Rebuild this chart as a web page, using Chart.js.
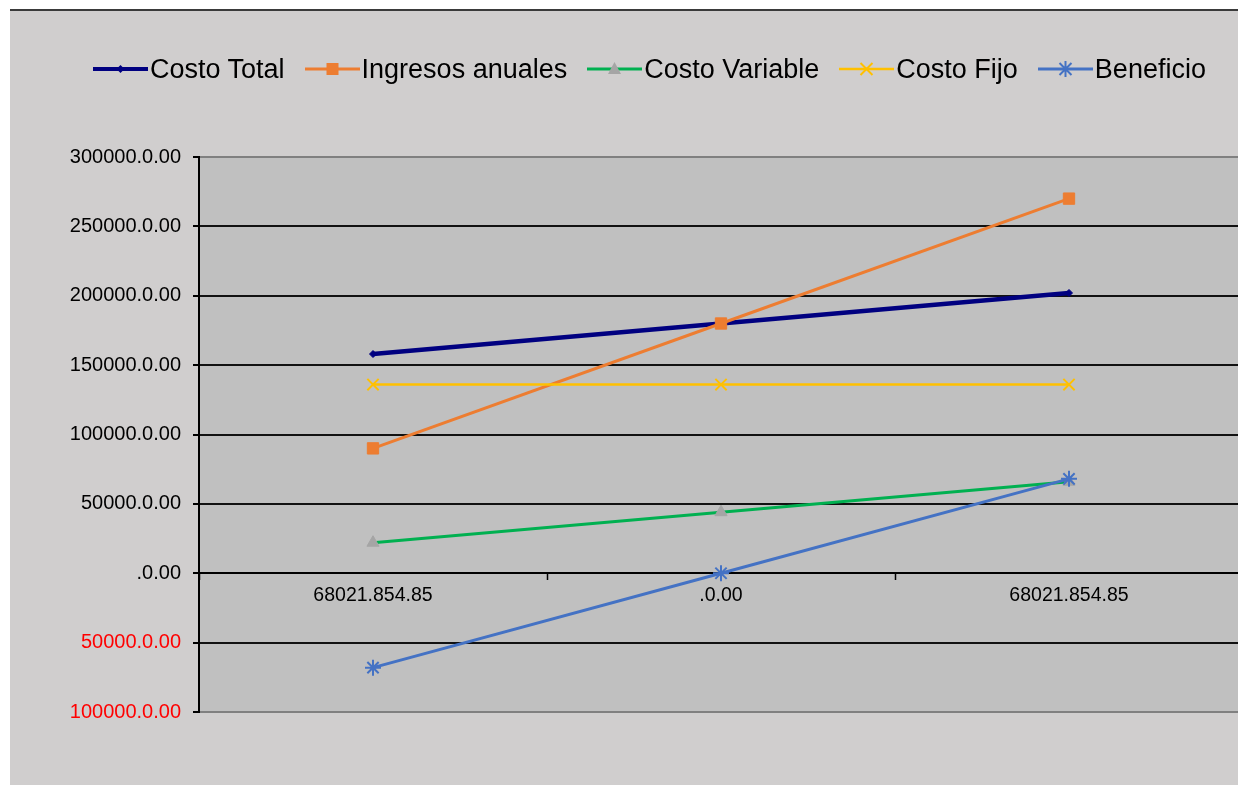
<!DOCTYPE html>
<html>
<head>
<meta charset="utf-8">
<script src="https://cdn.jsdelivr.net/npm/chart.js@4.4.1/dist/chart.umd.min.js"></script>
<style>
  html, body { margin:0; padding:0; background:#ffffff; width:1238px; height:785px; overflow:hidden; }
  #frame { position:absolute; left:10px; top:9px; width:1240px; height:776px; background:#d0cece; border-top:2px solid #3a3a3a; }
  #c { position:absolute; left:0; top:0; width:1243px; height:774px; }
  #legend { position:absolute; left:83px; top:33px; height:50px; display:flex; align-items:center; font-family:'Liberation Sans', Arial, sans-serif; font-size:27px; color:#000; white-space:nowrap; }
  .item { display:flex; align-items:center; margin-right:20px; }
  .item svg { margin-right:2px; }
</style>
</head>
<body>
<div id="frame">
  <canvas id="c" width="1243" height="774"></canvas>
  <div id="legend"></div>
</div>
<script>
const categories = ['68021.854.85', '.0.00', '68021.854.85'];
const seriesNames = ['Costo Total', 'Ingresos anuales', 'Costo Variable', 'Costo Fijo', 'Beneficio'];
const costoTotal = [158000, 180000, 202000];
const ingresosAnuales = [90000, 180000, 270000];
const costoVariable = [22000, 44000, 66000];
const costoFijo = [136000, 136000, 136000];
const beneficio = [-68022, 0, 68022];
const yTickLabels = ['100000.0.00', '50000.0.00', '.0.00', '50000.0.00', '100000.0.00', '150000.0.00', '200000.0.00', '250000.0.00', '300000.0.00'];

const FONT = "'Liberation Sans', Arial, sans-serif";

const styles = [
  { line:'#000080', width:4.5, point:'rectRot', radius:3.5, fill:'#000080' },
  { line:'#ED7D31', width:3, point:'rect', radius:8, fill:'#ED7D31' },
  { line:'#00B050', width:3, point:'triangle', radius:7, fill:'#A5A5A5' },
  { line:'#FFC000', width:2.5, point:'crossRot', radius:8, fill:'#FFC000' },
  { line:'#4472C4', width:3, point:'star', radius:8, fill:'#4472C4' }
];
const values = [costoTotal, ingresosAnuales, costoVariable, costoFijo, beneficio];

const datasets = values.map((v, i) => ({
  label: seriesNames[i],
  data: v,
  borderColor: styles[i].line,
  backgroundColor: styles[i].fill,
  borderWidth: styles[i].width,
  pointStyle: styles[i].point,
  pointRadius: styles[i].radius,
  pointBackgroundColor: styles[i].fill,
  pointBorderColor: styles[i].fill,
  pointBorderWidth: (styles[i].point === 'crossRot' || styles[i].point === 'star') ? 2 : 1,
  tension: 0,
  order: 4 - i
}));

const plotBg = {
  id: 'plotBg',
  beforeDraw(chart) {
    const { ctx, chartArea: a } = chart;
    ctx.save();
    ctx.fillStyle = '#c0c0c0';
    ctx.fillRect(a.left, a.top, a.right - a.left, a.bottom - a.top);
    ctx.restore();
  }
};

new Chart(document.getElementById('c'), {
  type: 'line',
  data: { labels: categories, datasets },
  plugins: [plotBg],
  options: {
    responsive: false,
    maintainAspectRatio: false,
    animation: false,
    layout: { padding: { top: 146, bottom: 73, left: 0, right: 4 } },
    plugins: { legend: { display: false }, tooltip: { enabled: false } },
    scales: {
      x: {
        type: 'category',
        position: { y: 0 },
        offset: true,
        afterFit(s) { s.height = 0; },
        grid: { display: true, drawOnChartArea: false, drawTicks: true, tickLength: 6, tickColor: '#000', tickWidth: 1.5, offset: true },
        border: { display: true, color: '#000', width: 2 },
        ticks: { color: '#000', font: { family: FONT, size: 19.5 }, padding: 5, maxRotation: 0, autoSkip: false }
      },
      y: {
        min: -100000,
        max: 300000,
        afterFit(s) { s.width = 189; },
        afterBuildTicks(s) {
          s.ticks = yTickLabels.map((_, i) => ({ value: -100000 + i * 50000 }));
        },
        grid: {
          color: (ctx) => (ctx.tick && (ctx.tick.value === 300000 || ctx.tick.value === -100000)) ? '#808080' : '#111111',
          lineWidth: 2,
          drawTicks: true,
          tickLength: 6,
          tickColor: '#000',
          tickWidth: 2
        },
        border: { display: true, color: '#000', width: 2 },
        ticks: {
          color: (ctx) => ctx.tick.value < 0 ? '#ff0000' : '#000000',
          font: { family: FONT, size: 20 },
          padding: 12,
          callback: (value, index) => yTickLabels[index]
        }
      }
    }
  }
});

// HTML legend
function markerSvg(i) {
  const s = styles[i];
  let m = '';
  const cx = 27.5, cy = 12;
  if (s.point === 'rectRot') m = `<polygon points="${cx},${cy-4} ${cx+4},${cy} ${cx},${cy+4} ${cx-4},${cy}" fill="${s.fill}"/>`;
  else if (s.point === 'rect') m = `<rect x="${cx-6}" y="${cy-6}" width="12" height="12" fill="${s.fill}"/>`;
  else if (s.point === 'triangle') m = `<polygon points="${cx},${cy-7} ${cx+6.5},${cy+5} ${cx-6.5},${cy+5}" fill="${s.fill}"/>`;
  else if (s.point === 'crossRot') m = `<path d="M${cx-6},${cy-6}L${cx+6},${cy+6}M${cx+6},${cy-6}L${cx-6},${cy+6}" stroke="${s.fill}" stroke-width="2"/>`;
  else if (s.point === 'star') m = `<path d="M${cx-6},${cy-6}L${cx+6},${cy+6}M${cx+6},${cy-6}L${cx-6},${cy+6}M${cx},${cy-8}L${cx},${cy+8}" stroke="${s.fill}" stroke-width="2"/>`;
  return `<svg width="55" height="24"><line x1="0" y1="${cy}" x2="55" y2="${cy}" stroke="${s.line}" stroke-width="${Math.min(s.width,4)}" stroke-linecap="round"/>${m}</svg>`;
}
const lg = document.getElementById('legend');
seriesNames.forEach((n, i) => {
  const d = document.createElement('div');
  d.className = 'item';
  d.innerHTML = markerSvg(i) + '<span>' + n + '</span>';
  lg.appendChild(d);
});
</script>
</body>
</html>
